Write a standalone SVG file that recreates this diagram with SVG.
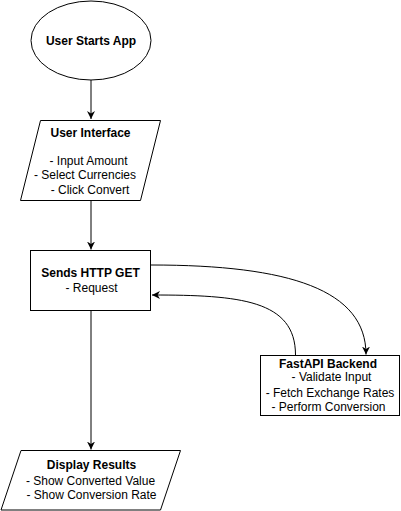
<svg xmlns="http://www.w3.org/2000/svg" width="401" height="511" viewBox="0 0 401 511">
<style>
.s{fill:#fff;stroke:#000;stroke-width:1}
.e{fill:none;stroke:#000;stroke-width:1}
text{font-family:"Liberation Sans",Arial,sans-serif;font-size:12px;fill:#000;text-anchor:middle}
.b{font-weight:bold}
</style>
<defs>
<marker id="arr" markerUnits="userSpaceOnUse" viewBox="0 0 10 10" refX="10" refY="5" markerWidth="8" markerHeight="8" orient="auto">
<path d="M0,0 L10,5 L0,10 L3,5 Z" fill="#000"/>
</marker>
</defs>
<rect width="401" height="511" fill="#fff"/>
<g id="connectors">
<path class="e" d="M91,80 L91,119" marker-end="url(#arr)"/>
<path class="e" d="M91,200 L91,249.5" marker-end="url(#arr)"/>
<path class="e" d="M151,265 C290,265 366,290 366,354.5" marker-end="url(#arr)"/>
<path class="e" d="M295.5,355 C295.5,300 240,295 152,295" marker-end="url(#arr)"/>
<path class="e" d="M91,310 L91,449.5" marker-end="url(#arr)"/>
</g>
<g id="start">
<ellipse class="s" cx="91" cy="40.5" rx="60" ry="39.5"/>
<text class="b" x="91" y="44.5">User Starts App</text>
</g>
<g id="ui">
<polygon class="s" points="40.5,120.5 160.5,120.5 140.5,200.5 20.5,200.5"/>
<text class="b" x="90.5" y="137">User Interface</text>
<text x="88.5" y="164.5">- Input Amount</text>
<text x="85" y="179">- Select Currencies</text>
<text x="90" y="193.5">- Click Convert</text>
</g>
<g id="request">
<rect class="s" x="30.5" y="250.5" width="120" height="60"/>
<text class="b" x="90.5" y="277">Sends HTTP GET</text>
<text x="91.5" y="292">- Request</text>
</g>
<g id="backend">
<rect class="s" x="260.5" y="355.5" width="139" height="60"/>
<text class="b" x="328" y="367.5">FastAPI Backend</text>
<text x="331.5" y="381">- Validate Input</text>
<text x="330" y="397">- Fetch Exchange Rates</text>
<text x="328.5" y="411">- Perform Conversion</text>
</g>
<g id="display">
<polygon class="s" points="21,450.5 180.5,450.5 160.5,510 1,510"/>
<text class="b" x="91.5" y="468.5">Display Results</text>
<text x="90.5" y="485">- Show Converted Value</text>
<text x="91.5" y="499">- Show Conversion Rate</text>
</g>
</svg>
